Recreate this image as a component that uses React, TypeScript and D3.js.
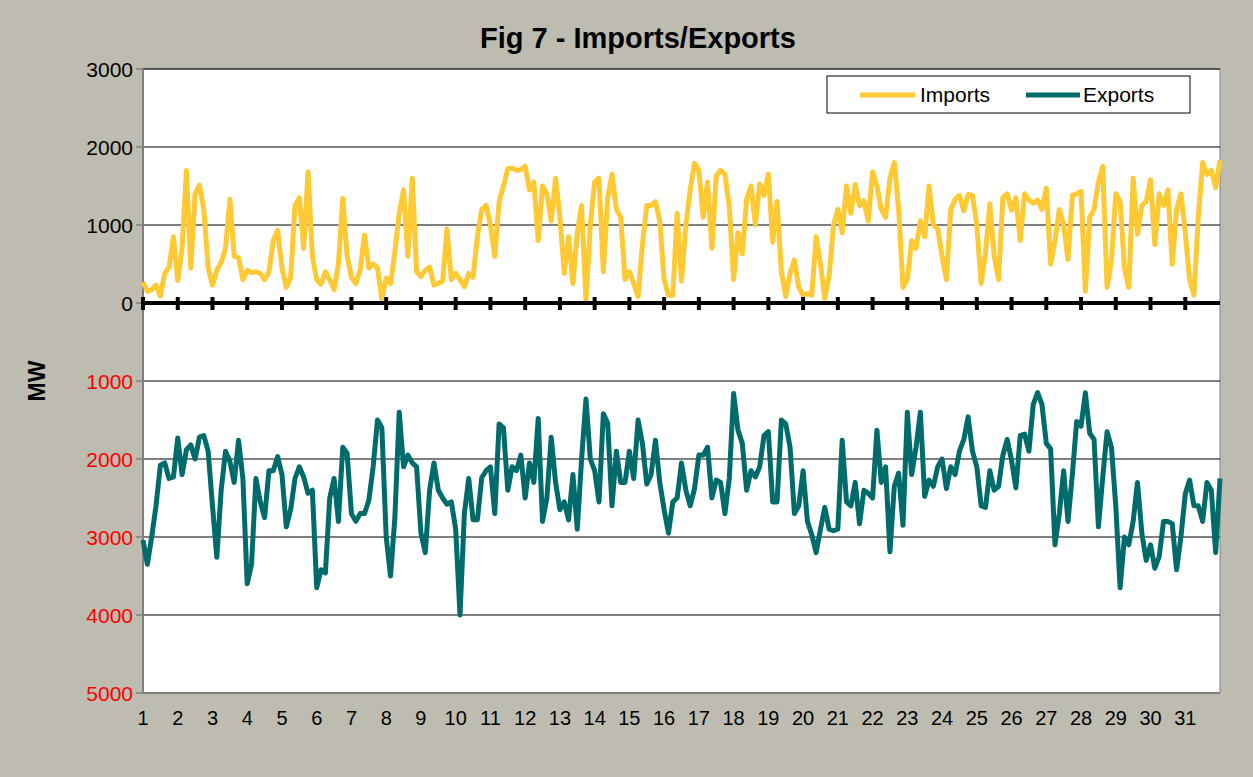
import * as d3 from "d3";

// 8 readings per day, days 1..32
const imports = [
  270, 150, 170, 230, 90, 380, 460, 850, 290, 700, 1700, 450, 1400, 1510, 1200, 450, 230, 420, 520, 700, 1330, 600, 580, 300, 420, 390, 400, 380, 300, 400, 800, 930, 450, 200, 330, 1250, 1350, 700, 1680, 600, 300, 240,
  400, 300, 170, 500, 1340, 600, 330, 250, 420, 870, 450, 500, 450, 50, 320, 250, 650, 1150, 1450, 600, 1600, 400, 340, 420, 460, 230, 250, 280, 950, 300, 380, 300, 210, 380, 330, 850, 1200, 1250, 1000, 600,
  1300, 1500, 1720, 1730, 1700, 1710, 1750, 1450, 1550, 800, 1500, 1400, 1050, 1600, 1100, 380, 850, 250, 900, 1250, 30, 1000, 1550, 1600, 400, 1350, 1650, 1200, 1100, 300, 400, 250, 80, 750, 1250, 1250, 1300, 1050, 300, 100, 100, 1150,
  280, 1000, 1450, 1790, 1700, 1100, 1550, 700, 1630, 1700, 1650, 1250, 300, 900, 630, 1330, 1500, 1000, 1530, 1380, 1650, 780, 1300, 400, 80, 380, 550, 200, 100, 120, 100, 850, 500, 60, 350, 1000, 1200, 900, 1500, 1150, 1520,
  1250, 1310, 1050, 1680, 1500, 1200, 1100, 1600, 1800, 1200, 200, 300, 800, 700, 1050, 850, 1500, 1000, 950, 600, 300, 1200, 1330, 1380, 1180, 1390, 1380, 1000, 250, 640, 1270, 600, 300, 1350, 1400, 1190, 1350, 800, 1400, 1320, 1280,
  1320, 1200, 1470, 500, 800, 1200, 1000, 560, 1380, 1400, 1430, 150, 1100, 1200, 1550, 1750, 200, 550, 1400, 1300, 450, 200, 1600, 880, 1250, 1300, 1580, 750, 1400, 1250, 1450, 500, 1200, 1400, 900, 300, 100, 1100, 1800, 1650, 1700, 1480, 1830,
];

const exports = [
  3040, 3350, 3000, 2600, 2080, 2050, 2250, 2230, 1730, 2200, 1880, 1820, 2000, 1720, 1700, 1900, 2600, 3260, 2400, 1900, 2030, 2300, 1760, 2250, 3600, 3350, 2250, 2550, 2750, 2150, 2150, 1970, 2200, 2870, 2650, 2250, 2100, 2230, 2440, 2400, 3650, 3420,
  3460, 2500, 2250, 2800, 1850, 1930, 2700, 2800, 2700, 2700, 2530, 2100, 1500, 1600, 3000, 3500, 2750, 1400, 2100, 1950, 2050, 2100, 2950, 3200, 2400, 2050, 2400, 2500, 2580, 2550, 2900, 4000, 2700, 2250, 2780, 2780, 2240, 2150, 2100, 2700,
  1550, 1600, 2400, 2100, 2150, 1950, 2500, 2050, 2300, 1480, 2800, 2500, 1720, 2300, 2650, 2550, 2780, 2200, 2900, 2000, 1230, 2000, 2150, 2550, 1420, 1540, 2600, 1900, 2300, 2300, 1900, 2250, 1500, 1800, 2320, 2200, 1760, 2300, 2650, 2950, 2550, 2500,
  2050, 2400, 2600, 2380, 1950, 1950, 1850, 2500, 2270, 2300, 2700, 2250, 1160, 1630, 1800, 2400, 2150, 2230, 2100, 1700, 1650, 2550, 2550, 1500, 1550, 1850, 2700, 2600, 2150, 2800, 2970, 3200, 2900, 2620, 2900, 2920, 2900, 1760, 2550, 2600, 2300,
  2830, 2400, 2440, 2500, 1630, 2300, 2100, 3190, 2350, 2180, 2850, 1400, 2200, 1850, 1400, 2480, 2270, 2350, 2100, 2000, 2380, 2100, 2200, 1900, 1750, 1460, 1900, 2100, 2600, 2620, 2150, 2400, 2350, 1950, 1750, 2020, 2370, 1700, 1680, 1900, 1300,
  1150, 1300, 1800, 1870, 3100, 2700, 2150, 2800, 2200, 1520, 1580, 1150, 1670, 1750, 2870, 2230, 1650, 1850, 2600, 3650, 3000, 3100, 2800, 2300, 2950, 3300, 3100, 3400, 3250, 2800, 2800, 2830, 3420, 3000, 2450, 2270, 2600, 2600, 2800, 2300, 2400, 3200, 2250,
];

const dayTicks = d3.range(1, 32);
const yTicks = [3000, 2000, 1000, 0, -1000, -2000, -3000, -4000, -5000];
const perDay = 8;

const W = 1253;
const H = 777;
const left = 143, right = 1220, top = 69, bottom = 693;
const font = "'Liberation Sans', Arial, sans-serif";
const impColor = "#FFC933";
const expColor = "#006B6B";

export default function App() {
  const x = d3.scaleLinear().domain([1, 32]).range([left, right]);
  const y = d3.scaleLinear().domain([-5000, 3000]).range([bottom, top]);

  const impLine = d3.line<number>()
    .x((_, i) => x(1 + i / perDay))
    .y(d => y(d));
  const expLine = d3.line<number>()
    .x((_, i) => x(1 + i / perDay))
    .y(d => y(-d));

  return (
    <svg width={W} height={H} style={{ position: "absolute", left: 0, top: 0 }} fontFamily={font}>
      <rect x={0} y={0} width={W} height={H} fill="#bebcb1" />
      <rect x={left} y={top} width={right - left} height={bottom - top} fill="#fff" stroke="#808080" strokeWidth={1} />

      {/* gridlines */}
      {yTicks.filter(t => t !== 0 && t !== -5000).map(t => (
        <line key={t} x1={left} x2={right} y1={y(t)} y2={y(t)} stroke="#000" strokeWidth={1.2} />
      ))}

      {/* y axis */}
      <line x1={left} x2={left} y1={top} y2={bottom} stroke="#808080" strokeWidth={2} />
      <line x1={left} x2={right} y1={bottom} y2={bottom} stroke="#808080" strokeWidth={2} />
      {yTicks.map(t => (
        <g key={"yt" + t}>
          <line x1={left - 7} x2={left} y1={y(t)} y2={y(t)} stroke="#808080" strokeWidth={1.5} />
          <text x={133} y={y(t)} dy="0.36em" textAnchor="end" fontSize={21}
            fill={t < 0 ? "#ff0000" : "#000"}>{Math.abs(t)}</text>
        </g>
      ))}

      {/* x labels */}
      {dayTicks.map(d => (
        <text key={"xl" + d} x={x(d)} y={725} textAnchor="middle" fontSize={20} fill="#000">{d}</text>
      ))}

      {/* series */}
      <path d={impLine(imports) || ""} fill="none" stroke={impColor} strokeWidth={5} strokeLinejoin="round" />
      <path d={expLine(exports) || ""} fill="none" stroke={expColor} strokeWidth={5} strokeLinejoin="round" />

      {/* zero axis with ticks */}
      <line x1={left} x2={right} y1={y(0)} y2={y(0)} stroke="#000" strokeWidth={4} />
      {dayTicks.map(d => (
        <line key={"xt" + d} x1={x(d)} x2={x(d)} y1={y(0) - 6} y2={y(0) + 7} stroke="#000" strokeWidth={4} />
      ))}

      {/* title */}
      <text x={638} y={48} textAnchor="middle" fontSize={29} fontWeight="bold" fill="#000">Fig 7 - Imports/Exports</text>
      <text transform={`translate(45,381) rotate(-90)`} textAnchor="middle" fontSize={23} fontWeight="bold" fill="#000">MW</text>

      {/* legend */}
      <rect x={827} y={76} width={363} height={37} fill="#fff" stroke="#000" strokeWidth={1} />
      <line x1={860} x2={915} y1={95} y2={95} stroke={impColor} strokeWidth={5} />
      <text x={920} y={102} fontSize={21} fill="#000">Imports</text>
      <line x1={1026} x2={1080} y1={95} y2={95} stroke={expColor} strokeWidth={5} />
      <text x={1083} y={102} fontSize={21} fill="#000">Exports</text>
    </svg>
  );
}
